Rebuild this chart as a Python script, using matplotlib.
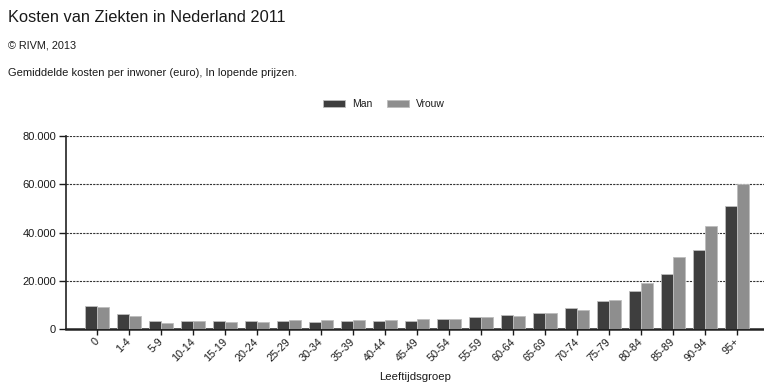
import matplotlib
matplotlib.use('Agg')
import matplotlib.pyplot as plt
import numpy as np
from matplotlib.ticker import FuncFormatter

# Gemiddelde kosten per inwoner (euro) per leeftijdsgroep
groepen = ['0', '1-4', '5-9', '10-14', '15-19', '20-24', '25-29', '30-34',
           '35-39', '40-44', '45-49', '50-54', '55-59', '60-64', '65-69',
           '70-74', '75-79', '80-84', '85-89', '90-94', '95+']
man = [9500, 6100, 3200, 3450, 3200, 3200, 3200, 2800, 3200, 3200, 3450,
       4300, 4800, 5700, 6500, 8600, 11500, 15800, 22800, 32900, 51000]
vrouw = [9000, 5500, 2600, 3450, 3100, 3100, 3900, 3900, 3900, 3600, 4000,
         4300, 4800, 5200, 6500, 8000, 12000, 18900, 29900, 42900, 60000]
y_ticks = [0, 20000, 40000, 60000, 80000]

plt.rcParams.update({
    'font.family': ['Liberation Sans', 'DejaVu Sans'],
    'text.color': '#1a1a1a',
    'xtick.color': '#1a1a1a',
    'ytick.color': '#1a1a1a',
})

fig = plt.figure(figsize=(7.64, 3.82), dpi=100)
fig.patch.set_facecolor('white')
ax = fig.add_axes([0.086, 0.1387, 0.914, 0.5053])

x = np.arange(len(groepen))
w = 0.375
ax.bar(x - w / 2, man, width=w, color='#3e3e3e', edgecolor='#bdbdbd', linewidth=0.6, label='Man', zorder=3)
ax.bar(x + w / 2, vrouw, width=w, color='#8e8e8e', edgecolor='#bdbdbd', linewidth=0.6, label='Vrouw', zorder=3)

ax.set_xlim(-0.99, 20.83)
ax.set_ylim(0, 80000)
ax.set_yticks(y_ticks)
ax.yaxis.set_major_formatter(FuncFormatter(lambda v, p: f'{int(v):,}'.replace(',', '.')))
for v in y_ticks[1:]:
    ax.axhline(v, color='#333333', lw=0.8, ls=(0, (2, 1)), zorder=1)

ax.set_xticks(x)
ax.set_xticklabels(groepen, rotation=45, ha='right', va='center', rotation_mode='anchor')
ax.tick_params(axis='x', length=4, width=1, pad=4, labelsize=7.8)
ax.tick_params(axis='y', length=5, width=1, pad=2, labelsize=8)

for s in ['top', 'right']:
    ax.spines[s].set_visible(False)
ax.spines['left'].set_linewidth(1.2)
ax.spines['bottom'].set_linewidth(1.8)
ax.spines['bottom'].set_color('#222222')
ax.spines['left'].set_color('#222222')

fig.text(415 / 764, 1 - 377 / 382, 'Leeftijdsgroep', ha='center', va='center', fontsize=8.2)

fig.text(8 / 764, 1 - 17 / 382, 'Kosten van Ziekten in Nederland 2011', ha='left', va='center', fontsize=11.8)
fig.text(8 / 764, 1 - 46 / 382, '\u00a9 RIVM, 2013', ha='left', va='center', fontsize=7.8)
fig.text(8 / 764, 1 - 73 / 382, 'Gemiddelde kosten per inwoner (euro), In lopende prijzen.',
         ha='left', va='center', fontsize=8)

fig.legend(loc='center', bbox_to_anchor=(384 / 764, 1 - 104 / 382), ncol=2, frameon=False,
           fontsize=7.5, handlelength=2.1, handleheight=0.6, handletextpad=0.7, columnspacing=1.4)

fig.savefig('out.png', dpi=100, facecolor='white')
